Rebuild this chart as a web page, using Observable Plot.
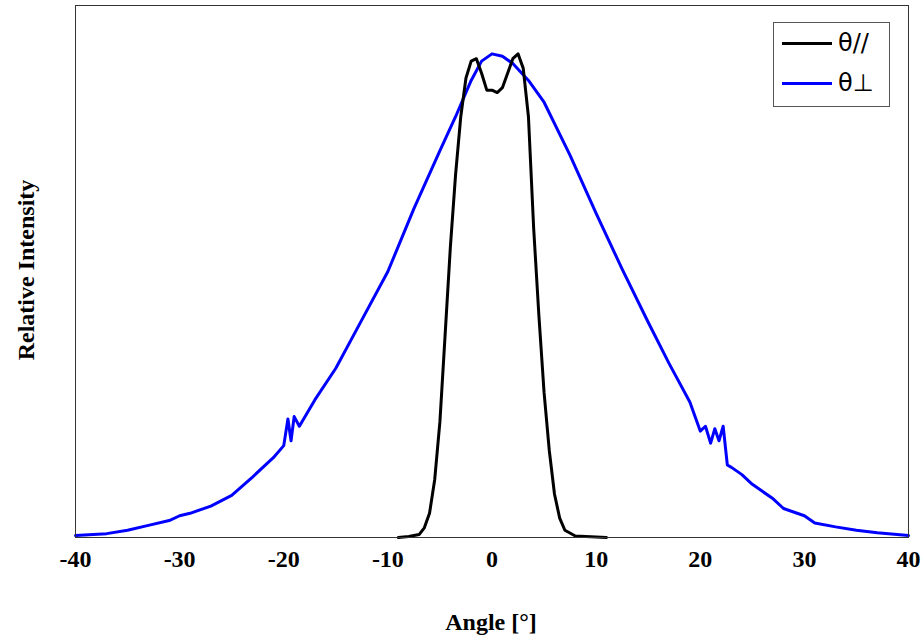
<!DOCTYPE html>
<html>
<head>
<meta charset="utf-8">
<script src="https://cdn.jsdelivr.net/npm/d3@7"></script>
<script src="https://cdn.jsdelivr.net/npm/@observablehq/plot@0.6"></script>
<style>
  body { margin: 0; background: white; }
  #wrap { position: relative; width: 924px; height: 640px; }
  #legend { position: absolute; left: 773px; top: 22px; width: 117px; height: 85px;
    border: 1px solid #555; background: white; font: 24px "DejaVu Sans"; box-sizing: border-box; }
  .row { position: absolute; left: 8px; display: flex; align-items: center; }
  .sw { width: 50px; height: 3px; margin-right: 6px; }
</style>
</head>
<body>
<div id="wrap">
  <div id="chart"></div>
  <div id="legend">
    <div class="row" style="top:6px"><div class="sw" style="background:black"></div>θ//</div>
    <div class="row" style="top:46px"><div class="sw" style="background:#0000ff"></div>θ⊥</div>
  </div>
</div>
<script>
// perpendicular (blue) profile
let perpX = [-40, -37, -35, -33, -31, -30, -29, -27, -25, -23, -21, -20, -19.6, -19.3, -19, -18.5, -17, -15, -12.5, -10, -7.5, -5, -3.5, -2, -1, 0, 1, 2, 3.5, 5, 7.5, 10, 12.5, 15, 17, 19, 20, 20.5, 21, 21.4, 21.8, 22.2, 22.6, 23, 24, 25, 26, 27, 28, 30, 31, 33, 35, 37, 40];
let perpY = [0.004, 0.008, 0.015, 0.025, 0.035, 0.045, 0.05, 0.065, 0.087, 0.125, 0.165, 0.19, 0.245, 0.2, 0.25, 0.23, 0.285, 0.35, 0.45, 0.55, 0.68, 0.80, 0.87, 0.945, 0.985, 1.0, 0.995, 0.98, 0.945, 0.9, 0.79, 0.67, 0.555, 0.445, 0.36, 0.28, 0.22, 0.23, 0.195, 0.225, 0.2, 0.23, 0.15, 0.145, 0.13, 0.11, 0.095, 0.08, 0.06, 0.045, 0.03, 0.022, 0.015, 0.01, 0.004];
// parallel (black) profile
let parX = [-9, -8, -7, -6.5, -6, -5.5, -5, -4.5, -4, -3.5, -3, -2.5, -2, -1.5, -1, -0.5, 0, 0.5, 1, 1.5, 2, 2.5, 3, 3.5, 4, 4.5, 5, 5.5, 6, 6.5, 7, 8, 11];
let parY = [0, 0.002, 0.006, 0.02, 0.05, 0.12, 0.24, 0.42, 0.6, 0.75, 0.87, 0.95, 0.985, 0.99, 0.96, 0.925, 0.925, 0.92, 0.93, 0.96, 0.99, 1.0, 0.97, 0.87, 0.64, 0.46, 0.30, 0.18, 0.09, 0.04, 0.015, 0.003, 0];
let xTicks = [-40, -30, -20, -10, 0, 10, 20, 30, 40];

let perp = perpX.map((x, i) => ({x, y: perpY[i]}));
let par = parX.map((x, i) => ({x, y: parY[i]}));

let chart = Plot.plot({
  width: 924,
  height: 640,
  marginLeft: 75,
  marginRight: 16,
  marginTop: 5,
  marginBottom: 103,
  x: { domain: [-40, 40], ticks: xTicks, tickFormat: d => String(d), tickSize: 0, tickPadding: 12, label: null },
  y: { domain: [0, 1.1], axis: null },
  style: { fontFamily: "Liberation Serif", fontWeight: "bold", fontSize: "24px", color: "black" },
  marks: [
    Plot.line(perp, { x: "x", y: "y", stroke: "#0000ff", strokeWidth: 3 }),
    Plot.line(par, { x: "x", y: "y", stroke: "black", strokeWidth: 3 }),
    Plot.frame({ stroke: "#333" })
  ]
});
d3.select("#chart").append(() => chart);
const svg = d3.select(chart);
svg.append("text").attr("x", 491).attr("y", 630).attr("text-anchor", "middle")
  .style("font", "bold 24px 'Liberation Serif'").text("Angle [°]");
svg.append("text").attr("transform", "translate(34,270) rotate(-90)").attr("text-anchor", "middle")
  .style("font", "bold 24px 'Liberation Serif'").text("Relative Intensity");
</script>
</body>
</html>
